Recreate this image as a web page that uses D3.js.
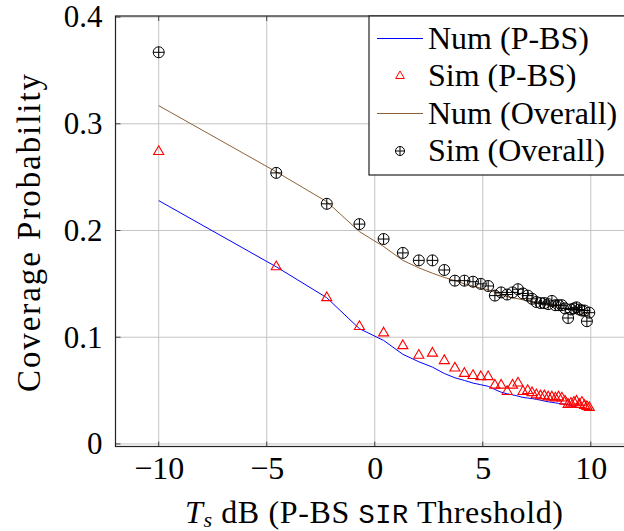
<!DOCTYPE html>
<html>
<head>
<meta charset="utf-8">
<script src="https://cdn.jsdelivr.net/npm/d3@7"></script>
<style>
  html, body { margin: 0; padding: 0; background: #fff; }
  svg { display: block; }
</style>
</head>
<body>
<svg id="chart" width="624" height="531"></svg>
<script>
// SIR threshold in dB (shared by every series)
const thresholdDb = [
  -10.00, -4.56, -2.22, -0.71, 0.41, 1.30, 2.04, 2.67, 3.22, 3.71,
  4.15, 4.55, 4.91, 5.25, 5.56, 5.85, 6.13, 6.38, 6.63, 6.86,
  7.08, 7.28, 7.48, 7.67, 7.85, 8.03, 8.20, 8.36, 8.51, 8.66,
  8.81, 8.95, 9.08, 9.22, 9.34, 9.47, 9.59, 9.71, 9.82, 9.93
];

// Numerical coverage probability, P-BS
const numPBS = [
  0.228, 0.166, 0.137, 0.108, 0.097, 0.084, 0.077, 0.072, 0.066, 0.062,
  0.0595, 0.057, 0.0555, 0.054, 0.051, 0.0485, 0.047, 0.046, 0.0448, 0.0436,
  0.043, 0.0425, 0.0418, 0.041, 0.0402, 0.0395, 0.039, 0.0385, 0.038, 0.0376,
  0.0372, 0.0366, 0.036, 0.0352, 0.0345, 0.034, 0.0336, 0.0332, 0.0328, 0.0325
];

// Simulated coverage probability, P-BS
const simPBS = [
  0.274, 0.166, 0.137, 0.110, 0.104, 0.092, 0.083, 0.085, 0.078, 0.071,
  0.066, 0.064, 0.063, 0.063, 0.055, 0.055, 0.049, 0.055, 0.057, 0.049,
  0.050, 0.048, 0.046, 0.045, 0.045, 0.044, 0.044, 0.043, 0.044, 0.043,
  0.040, 0.037, 0.038, 0.039, 0.040, 0.037, 0.039, 0.036, 0.035, 0.034
];

// Numerical coverage probability, overall
const numOverall = [
  0.317, 0.255, 0.227, 0.199, 0.185, 0.172, 0.165, 0.160, 0.156, 0.153,
  0.150, 0.148, 0.146, 0.1445, 0.142, 0.140, 0.138, 0.137, 0.136, 0.135,
  0.134, 0.133, 0.132, 0.131, 0.1305, 0.130, 0.129, 0.1285, 0.128, 0.127,
  0.1265, 0.126, 0.1255, 0.125, 0.1245, 0.124, 0.1235, 0.123, 0.1225, 0.122
];

// Simulated coverage probability, overall
const simOverall = [
  0.367, 0.254, 0.225, 0.206, 0.192, 0.179, 0.172, 0.172, 0.163, 0.153,
  0.153, 0.152, 0.150, 0.148, 0.139, 0.142, 0.140, 0.142, 0.145, 0.141,
  0.139, 0.136, 0.133, 0.132, 0.132, 0.131, 0.134, 0.130, 0.130, 0.130,
  0.127, 0.118, 0.126, 0.127, 0.128, 0.126, 0.125, 0.125, 0.115, 0.123
];

const xTicks = [-10, -5, 0, 5, 10];
const yTicks = [0, 0.1, 0.2, 0.3, 0.4];
const xLimits = [-12, 12];
const yLimits = [-0.0024, 0.401];

const legendLabels = ["Num (P-BS)", "Sim (P-BS)", "Num (Overall)", "Sim (Overall)"];

const SERIF = "'Liberation Serif'";
const MONO = "'Liberation Mono'";

const svg = d3.select("#chart").attr("font-family", SERIF);
const box = { left: 115.5, right: 634, top: 16, bottom: 446.5 };

const x = d3.scaleLinear().domain(xLimits).range([box.left, box.right]);
const y = d3.scaleLinear().domain(yLimits).range([box.bottom, box.top]);

const gridColor = "#c4c4c4";

// grid
const grid = svg.append("g");
grid.selectAll("line.gx").data(xTicks).join("line")
  .attr("x1", d => x(d)).attr("x2", d => x(d))
  .attr("y1", box.top).attr("y2", box.bottom)
  .attr("stroke", gridColor).attr("stroke-width", 1);
grid.selectAll("line.gy").data(yTicks).join("line")
  .attr("y1", d => y(d)).attr("y2", d => y(d))
  .attr("x1", box.left).attr("x2", box.right)
  .attr("stroke", gridColor).attr("stroke-width", 1);

// clip to the plotting box
svg.append("clipPath").attr("id", "plotClip")
  .append("rect").attr("x", box.left).attr("y", box.top)
  .attr("width", box.right - box.left).attr("height", box.bottom - box.top);
const plot = svg.append("g").attr("clip-path", "url(#plotClip)");

const pts = vals => thresholdDb.map((t, i) => [t, vals[i]]);
const line = d3.line().x(d => x(d[0])).y(d => y(d[1]));

// marker shapes
const triR = 5.8;
const triPath = r => `M0,${-r}L${r * 0.866},${r / 2}L${-r * 0.866},${r / 2}Z`;
function oplus(g, r) {
  g.append("circle").attr("r", r).attr("fill", "none")
    .attr("stroke", "#000").attr("stroke-width", 1);
  g.append("line").attr("x1", -r).attr("x2", r).attr("y1", 0).attr("y2", 0)
    .attr("stroke", "#000").attr("stroke-width", 1);
  g.append("line").attr("y1", -r).attr("y2", r).attr("x1", 0).attr("x2", 0)
    .attr("stroke", "#000").attr("stroke-width", 1);
}

const blue = "#0000ff", red = "#ff0000", brown = "#8f6036";

// Num (P-BS)
plot.append("path").datum(pts(numPBS)).attr("d", line)
  .attr("fill", "none").attr("stroke", blue).attr("stroke-width", 1);

// Sim (P-BS)
plot.append("g").selectAll("path").data(pts(simPBS)).join("path")
  .attr("transform", d => `translate(${x(d[0])},${y(d[1])})`)
  .attr("d", triPath(triR))
  .attr("fill", "none").attr("stroke", red).attr("stroke-width", 1.1);

// Num (Overall)
plot.append("path").datum(pts(numOverall)).attr("d", line)
  .attr("fill", "none").attr("stroke", brown).attr("stroke-width", 1);

// Sim (Overall)
plot.append("g").selectAll("g").data(pts(simOverall)).join("g")
  .attr("transform", d => `translate(${x(d[0])},${y(d[1])})`)
  .each(function () { oplus(d3.select(this), 5.5); });

// axis box and inward ticks
const axisG = svg.append("g");
const tickLen = 5;
xTicks.forEach(t => {
  axisG.append("line").attr("x1", x(t)).attr("x2", x(t))
    .attr("y1", box.bottom).attr("y2", box.bottom - tickLen).attr("stroke", "#444");
  axisG.append("line").attr("x1", x(t)).attr("x2", x(t))
    .attr("y1", box.top).attr("y2", box.top + tickLen).attr("stroke", "#444");
});
yTicks.forEach(t => {
  axisG.append("line").attr("y1", y(t)).attr("y2", y(t))
    .attr("x1", box.left).attr("x2", box.left + tickLen).attr("stroke", "#444");
  axisG.append("line").attr("y1", y(t)).attr("y2", y(t))
    .attr("x1", box.right).attr("x2", box.right - tickLen).attr("stroke", "#444");
});
axisG.append("rect").attr("x", box.left).attr("y", box.top)
  .attr("width", box.right - box.left).attr("height", box.bottom - box.top)
  .attr("fill", "none").attr("stroke", "#222").attr("stroke-width", 1.2);

// tick labels via d3 axes (lines hidden, labels only)
const fmtX = d => d < 0 ? "\u2212" + Math.abs(d) : String(d);
const xAxis = svg.append("g").attr("transform", `translate(0,${box.bottom})`)
  .call(d3.axisBottom(x).tickValues(xTicks).tickFormat(fmtX).tickSize(0).tickPadding(10));
xAxis.attr("font-family", SERIF).attr("font-size", 32);
xAxis.select(".domain").remove();
xAxis.selectAll("text").attr("fill", "#000");

const yAxis = svg.append("g").attr("transform", `translate(${box.left},0)`)
  .call(d3.axisLeft(y).tickValues(yTicks).tickFormat(d => d === 0 ? "0" : d3.format(".1f")(d)).tickSize(0).tickPadding(13));
yAxis.attr("font-family", SERIF).attr("font-size", 31);
yAxis.select(".domain").remove();
yAxis.selectAll("text").attr("fill", "#000");

// axis titles
const xt = svg.append("text").attr("x", 374).attr("y", 523)
  .attr("text-anchor", "middle").attr("font-size", 32).attr("font-family", SERIF)
  .attr("textLength", 378).attr("lengthAdjust", "spacing");
xt.append("tspan").attr("font-style", "italic").text("T");
xt.append("tspan").attr("font-style", "italic").attr("font-size", 22).attr("dy", 4).text("s");
xt.append("tspan").attr("dy", -4).text(" dB (P-BS ");
xt.append("tspan").attr("font-family", MONO).attr("font-size", 27).text("SIR");
xt.append("tspan").text(" Threshold)");

svg.append("text")
  .attr("transform", `translate(40,233) rotate(-90)`)
  .attr("text-anchor", "middle").attr("font-size", 33).attr("font-family", SERIF)
  .attr("textLength", 318).attr("lengthAdjust", "spacing")
  .text("Coverage Probability");

// legend
const lg = svg.append("g");
const lgLeft = 369, lgTop = box.top, lgBottom = 175;
lg.append("rect").attr("x", lgLeft).attr("y", lgTop)
  .attr("width", box.right - lgLeft).attr("height", lgBottom - lgTop)
  .attr("fill", "#fff").attr("stroke", "#222").attr("stroke-width", 1.2);
const baselines = [48.5, 86, 123.5, 161];
legendLabels.forEach((lab, i) => {
  const yy = baselines[i] - 10;
  const row = lg.append("g");
  if (i === 0 || i === 2) {
    row.append("line").attr("x1", 377).attr("x2", 423).attr("y1", yy).attr("y2", yy)
      .attr("stroke", i === 0 ? blue : brown).attr("stroke-width", 1);
  } else if (i === 1) {
    row.append("path").attr("transform", `translate(400,${yy})`).attr("d", triPath(5))
      .attr("fill", "none").attr("stroke", red).attr("stroke-width", 1);
  } else {
    const m = row.append("g").attr("transform", `translate(400,${yy})`);
    oplus(m, 4.5);
  }
  row.append("text").attr("x", 428).attr("y", baselines[i])
    .attr("font-size", 32).attr("font-family", SERIF).text(lab);
});
</script>
</body>
</html>
